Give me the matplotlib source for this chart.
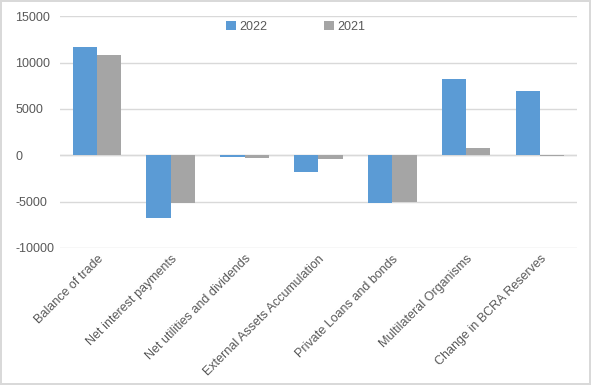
import matplotlib.pyplot as plt
import numpy as np

categories = ["Balance of trade", "Net interest payments", "Net utilities and dividends",
              "External Assets Accumulation", "Private Loans and bonds",
              "Multilateral Organisms", "Change in BCRA Reserves"]
vals_2022 = [11700, -6750, -150, -1830, -5200, 8200, 6900]
vals_2021 = [10800, -5100, -250, -400, -5000, 800, -100]

plt.rcParams['font.family'] = ['Liberation Sans', 'DejaVu Sans']
plt.rcParams['axes.unicode_minus'] = False
txt = '#595959'

fig = plt.figure(figsize=(5.91, 3.85), dpi=100)
fig.patch.set_edgecolor('#D9D9D9')
fig.patch.set_linewidth(1.5)
ax = fig.add_axes([0.1015, 0.356, 0.8745, 0.602])

x = np.arange(len(categories))
w = 0.33
ax.bar(x - w / 2, vals_2022, w, color='#5B9BD5', label='2022', zorder=3)
ax.bar(x + w / 2, vals_2021, w, color='#A5A5A5', label='2021', zorder=3)

ax.set_xlim(-0.5, len(categories) - 0.5)
ax.set_ylim(-10000, 15000)
ax.set_yticks(np.arange(-10000, 15001, 5000))
ax.yaxis.grid(True, color='#D9D9D9', linewidth=1, zorder=0)
ax.axhline(0, color='#D9D9D9', linewidth=1, zorder=1)
for s in ax.spines.values():
    s.set_visible(False)
ax.tick_params(length=0, colors=txt, labelsize=9)
ax.tick_params(axis='y', pad=32)
for lab in ax.get_yticklabels():
    lab.set_horizontalalignment('left')
ax.set_xticks(x)
ax.set_xticklabels(categories, rotation=45, ha='right', rotation_mode='anchor', color=txt, fontsize=9)

fig.legend(*ax.get_legend_handles_labels(), loc='upper center', bbox_to_anchor=(0.5, 0.975),
           ncol=2, frameon=False, fontsize=9, handlelength=0.8, handleheight=0.8,
           columnspacing=4.5, handletextpad=0.3, labelcolor=txt)

fig.savefig('out.png', dpi=100)
